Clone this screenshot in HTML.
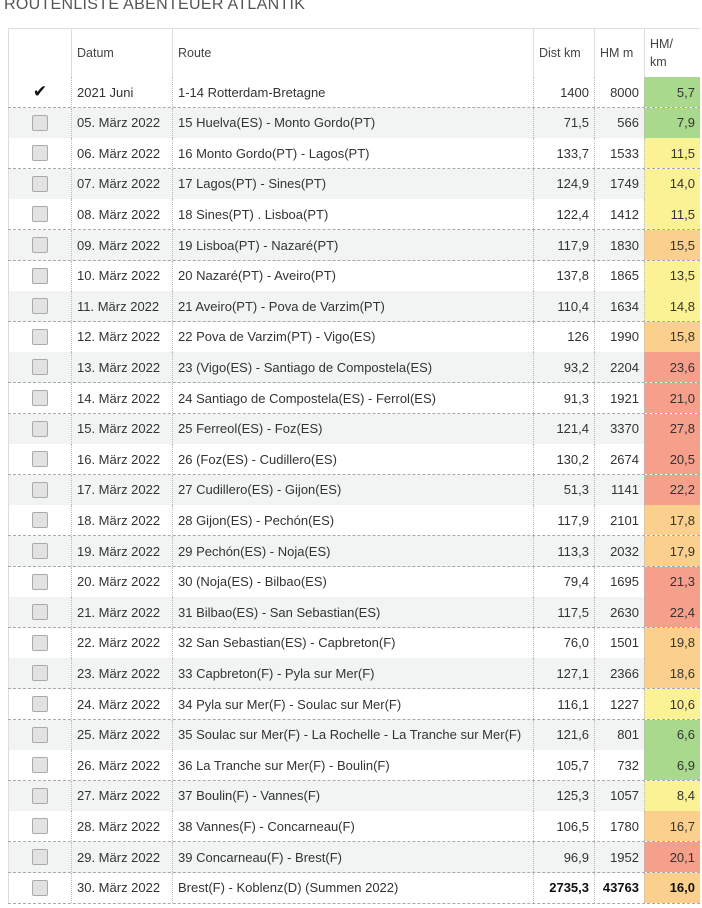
<!DOCTYPE html>
<html><head><meta charset="utf-8"><style>
body{margin:0;width:702px;height:908px;background:#fff;font-family:"Liberation Sans",sans-serif;overflow:hidden;position:relative;color:#333}
.t{position:absolute;left:4px;top:-4px;font-size:16px;color:#555;letter-spacing:0.3px}
.hd{position:absolute;top:28px;left:8px;width:692px;height:48px;border-top:1px solid #ddd;border-bottom:2px solid #bbb;font-size:12.5px;color:#444}
.r{position:absolute;left:8px;width:692px;height:30px;border-bottom:1px dashed #aaa;font-size:13px}
.c{position:absolute;top:0;height:100%;display:flex;align-items:center;box-sizing:border-box;padding:0 5px}
.r .c{border-left:1px dotted #bbb}
.hd .c{border-left:1px solid #ddd}
.n{justify-content:flex-end}
.cb{width:14px;height:14px;border:1px solid #aaa;border-radius:2px;background:#e2e2e2;margin:auto}
.g{background:#a9d98c}.y{background:#fbf195}.o{background:#fbd08c}.rd{background:#f6a08c}
</style></head><body>
<div class="t">ROUTENLISTE ABENTEUER ATLANTIK</div>
<div class="hd">
<div class="c" style="left:0;width:63px;border-left:1px solid #ddd"></div>
<div class="c" style="left:63px;width:101px">Datum</div>
<div class="c" style="left:164px;width:361px">Route</div>
<div class="c" style="left:525px;width:61px">Dist km</div>
<div class="c" style="left:586px;width:50px">HM m</div>
<div class="c" style="left:636px;width:56px;line-height:18px">HM/<br>km</div>
</div>
<div id="rows"></div>
<script>
const d=[["2021 Juni","1-14 Rotterdam-Bretagne","1400","8000","5,7","g"],
["05. März 2022","15 Huelva(ES) - Monto Gordo(PT)","71,5","566","7,9","g"],
["06. März 2022","16 Monto Gordo(PT) - Lagos(PT)","133,7","1533","11,5","y"],
["07. März 2022","17 Lagos(PT) - Sines(PT)","124,9","1749","14,0","y"],
["08. März 2022","18 Sines(PT) . Lisboa(PT)","122,4","1412","11,5","y"],
["09. März 2022","19 Lisboa(PT) - Nazaré(PT)","117,9","1830","15,5","o"],
["10. März 2022","20 Nazaré(PT) - Aveiro(PT)","137,8","1865","13,5","y"],
["11. März 2022","21 Aveiro(PT) - Pova de Varzim(PT)","110,4","1634","14,8","y"],
["12. März 2022","22 Pova de Varzim(PT) - Vigo(ES)","126","1990","15,8","o"],
["13. März 2022","23 (Vigo(ES) - Santiago de Compostela(ES)","93,2","2204","23,6","rd"],
["14. März 2022","24 Santiago de Compostela(ES) - Ferrol(ES)","91,3","1921","21,0","rd"],
["15. März 2022","25 Ferreol(ES) - Foz(ES)","121,4","3370","27,8","rd"],
["16. März 2022","26 (Foz(ES) - Cudillero(ES)","130,2","2674","20,5","rd"],
["17. März 2022","27 Cudillero(ES) - Gijon(ES)","51,3","1141","22,2","rd"],
["18. März 2022","28 Gijon(ES) - Pechón(ES)","117,9","2101","17,8","o"],
["19. März 2022","29 Pechón(ES) - Noja(ES)","113,3","2032","17,9","o"],
["20. März 2022","30 (Noja(ES) - Bilbao(ES)","79,4","1695","21,3","rd"],
["21. März 2022","31 Bilbao(ES) - San Sebastian(ES)","117,5","2630","22,4","rd"],
["22. März 2022","32 San Sebastian(ES) - Capbreton(F)","76,0","1501","19,8","o"],
["23. März 2022","33 Capbreton(F) - Pyla sur Mer(F)","127,1","2366","18,6","o"],
["24. März 2022","34 Pyla sur Mer(F) - Soulac sur Mer(F)","116,1","1227","10,6","y"],
["25. März 2022","35 Soulac sur Mer(F) - La Rochelle - La Tranche sur Mer(F)","121,6","801","6,6","g"],
["26. März 2022","36 La Tranche sur Mer(F) - Boulin(F)","105,7","732","6,9","g"],
["27. März 2022","37 Boulin(F) - Vannes(F)","125,3","1057","8,4","y"],
["28. März 2022","38 Vannes(F) - Concarneau(F)","106,5","1780","16,7","o"],
["29. März 2022","39 Concarneau(F) - Brest(F)","96,9","1952","20,1","rd"],
["30. März 2022","Brest(F) - Koblenz(D)  (Summen 2022)","2735,3","43763","16,0","o"]];
let h="";
d.forEach((r,i)=>{const bg=i%2?"#f2f4f4":"#fff";const b=i==26?"font-weight:bold;color:#111":"";
const cb=i==0?'<span style="margin:auto;font-size:17px;color:#111">✔</span>':'<div class="cb"></div>';
h+=`<div class="r" style="top:${77+i*30.6}px;background:${bg}">
<div class="c" style="left:0;width:63px;border-left:1px solid #ddd">${cb}</div>
<div class="c" style="left:63px;width:101px;white-space:nowrap">${r[0]}</div>
<div class="c" style="left:164px;width:361px;white-space:nowrap">${r[1]}</div>
<div class="c n" style="left:525px;width:61px;${b}">${r[2]}</div>
<div class="c n" style="left:586px;width:50px;${b}">${r[3]}</div>
<div class="c n ${r[5]}" style="left:636px;width:56px;${b}">${r[4]}</div></div>`;});
document.getElementById("rows").innerHTML=h;
</script>
</body></html>
